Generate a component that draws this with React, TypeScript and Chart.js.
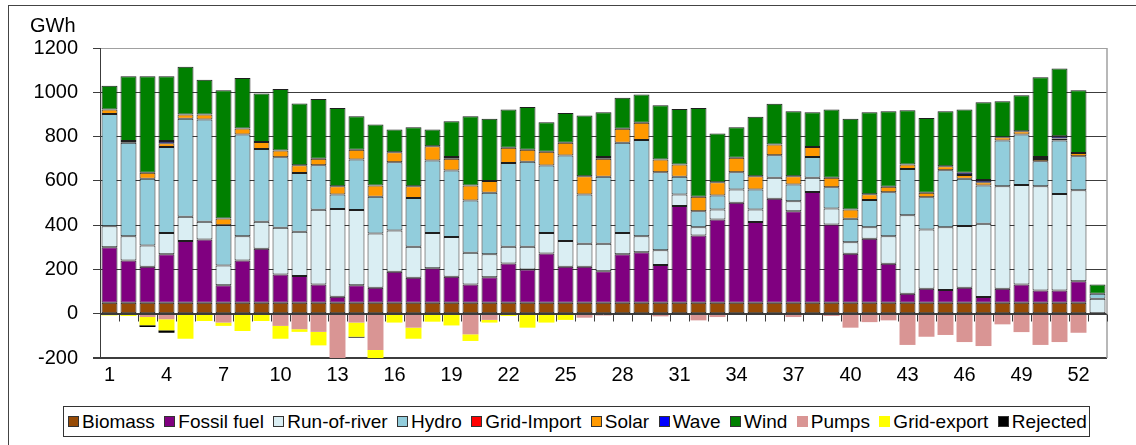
import React, { useEffect, useRef } from "react";
import { Chart, registerables } from "chart.js";

Chart.register(...registerables);

const weeks = ["1","2","3","4","5","6","7","8","9","10","11","12","13","14","15","16","17","18","19","20","21","22","23","24","25","26","27","28","29","30","31","32","33","34","35","36","37","38","39","40","41","42","43","44","45","46","47","48","49","50","51","52","53"];
const xTickLabels = ["1","4","7","10","13","16","19","22","25","28","31","34","37","40","43","46","49","52"];
const yTicks = [-200, 0, 200, 400, 600, 800, 1000, 1200];

const biomass = [50,50,50,50,50,50,50,50,50,50,50,50,50,50,50,50,50,50,50,50,50,50,50,50,50,50,50,50,50,50,50,50,50,50,50,50,50,50,50,50,50,50,50,50,50,50,50,50,50,50,50,50,0];
const fossil = [250,190,162,218,278,285,78,190,243,127,120,82,27,78,67,140,112,155,117,82,115,177,150,222,162,162,142,218,228,170,436,303,376,451,364,469,413,500,353,221,288,176,40,63,57,67,25,63,82,55,55,97,0];
const runOfRiver = [95,110,96,97,110,80,90,110,122,211,200,338,396,340,245,186,140,160,180,143,103,75,102,93,116,104,124,97,72,67,52,38,45,60,57,95,45,64,72,52,53,124,355,267,284,279,331,463,449,471,436,411,68];
const hydro = [507,422,301,388,442,462,182,459,329,319,266,200,65,228,166,308,221,327,300,236,278,379,384,304,386,222,302,407,434,352,80,72,63,78,90,102,76,94,96,106,122,199,209,146,257,213,173,206,228,113,241,153,22];
const gridImport = [0,0,0,0,0,0,0,0,0,0,0,0,0,0,0,0,0,0,0,0,0,0,0,0,0,0,0,0,0,0,0,0,0,0,0,0,0,0,0,0,0,0,0,0,0,0,0,0,0,0,0,0,0];
const solar = [20,8,28,17,20,23,30,27,31,30,34,30,38,45,51,45,53,64,53,68,53,68,55,62,58,83,82,63,78,57,56,65,60,65,60,48,37,45,43,42,26,24,20,20,18,18,15,15,15,10,9,15,0];
const wave = [0,0,0,10,0,0,0,0,0,0,0,0,0,0,0,0,0,0,8,0,0,0,0,0,0,0,8,0,0,0,0,0,0,0,0,0,0,0,0,0,0,0,0,0,0,10,10,0,0,9,10,0,0];
const wind = [108,292,435,292,215,157,579,229,219,278,279,270,353,151,275,103,266,76,161,313,281,173,193,134,135,274,202,140,128,246,251,401,220,138,268,184,293,157,308,409,371,341,245,338,248,285,351,163,163,360,306,283,42];
const pumps = [0,0,-15,-25,0,0,-40,0,0,-55,-70,-82,-215,-40,-164,0,-63,0,0,-93,-28,0,0,0,0,-18,-8,0,0,-12,-5,-30,-15,-5,-5,0,-15,-5,-10,-63,-38,-30,-141,-104,-96,-128,-146,-48,-83,-141,-128,-86,0];
const gridExport = [-8,-10,-37,-50,-113,-33,-15,-78,-33,-58,-12,-61,0,-64,-42,-40,-50,-36,-53,-30,-12,-10,-63,-40,-28,0,0,0,0,0,0,0,0,0,0,0,0,0,0,0,0,0,0,0,0,0,0,0,0,0,0,0,0];
const rejected = [0,0,-8,-11,0,0,0,0,0,0,0,0,0,-4,0,0,0,0,0,0,0,0,0,0,0,0,0,0,0,0,0,0,0,0,0,0,0,0,0,0,0,0,0,0,0,0,0,0,0,0,0,0,0];

const series = [
  { label: "Biomass", data: biomass, color: "#974B06", border: true },
  { label: "Fossil fuel", data: fossil, color: "#800080", border: true },
  { label: "Run-of-river", data: runOfRiver, color: "#DAEEF3", border: true },
  { label: "Hydro", data: hydro, color: "#92CDDC", border: true },
  { label: "Grid-Import", data: gridImport, color: "#FF0000", border: true },
  { label: "Solar", data: solar, color: "#FF9900", border: true },
  { label: "Wave", data: wave, color: "#0000FF", border: true },
  { label: "Wind", data: wind, color: "#008000", border: true },
  { label: "Pumps", data: pumps, color: "#D99594", border: false },
  { label: "Grid-export", data: gridExport, color: "#FFFF00", border: false },
  { label: "Rejected", data: rejected, color: "#000000", border: false },
];

const FONT = "'Liberation Sans', Arial, sans-serif";

const framePlugin = {
  id: "framePlugin",
  afterDraw(chart: any) {
    const { ctx, chartArea } = chart;
    const y = chart.scales.y;
    ctx.save();
    ctx.strokeStyle = "#a0a0a0";
    ctx.lineWidth = 1.5;
    ctx.beginPath();
    ctx.moveTo(chartArea.right, chartArea.top);
    ctx.lineTo(chartArea.right, chartArea.bottom);
    ctx.stroke();
    const y0 = Math.round(y.getPixelForValue(0)) + 0.5;
    const n = weeks.length;
    const w = (chartArea.right - chartArea.left) / n;
    ctx.strokeStyle = "#3c3c3c";
    ctx.lineWidth = 1;
    ctx.beginPath();
    ctx.moveTo(chartArea.left, y0);
    ctx.lineTo(chartArea.right, y0);
    for (let i = 1; i <= n; i++) {
      const px = Math.round(chartArea.left + i * w) + 0.5;
      ctx.moveTo(px, y0);
      ctx.lineTo(px, y0 + 7);
    }
    ctx.stroke();
    ctx.fillStyle = "#000";
    ctx.font = `20px ${FONT}`;
    ctx.textAlign = "left";
    ctx.textBaseline = "alphabetic";
    ctx.fillText("GWh", 30, 32);
    ctx.restore();
  },
};

export default function App() {
  const ref = useRef<HTMLCanvasElement | null>(null);

  useEffect(() => {
    if (!ref.current) return;
    const chart = new Chart(ref.current, {
      type: "bar",
      data: {
        labels: weeks,
        datasets: series.map((s) => ({
          label: s.label,
          data: s.data.map((v) => (v === 0 ? null : v)),
          backgroundColor: s.color,
          borderColor: "#1e1e1e",
          borderWidth: s.border ? 1 : 0,
          borderSkipped: false,
          stack: "all",
          categoryPercentage: 1,
          barPercentage: 0.84,
        })),
      },
      options: {
        animation: false,
        responsive: false,
        devicePixelRatio: 1,
        layout: { padding: { left: 0, right: 29, top: 48, bottom: 47 } },
        plugins: {
          legend: { display: false },
          tooltip: { enabled: false },
          title: { display: false },
        },
        scales: {
          x: {
            stacked: true,
            grid: { display: false, drawTicks: false },
            border: { display: false },
            ticks: {
              autoSkip: false,
              maxRotation: 0,
              minRotation: 0,
              padding: 5,
              color: "#000",
              font: { size: 20, family: FONT },
              callback: (_v: any, i: number) => (xTickLabels.includes(weeks[i]) ? weeks[i] : ""),
            },
            afterFit: (scale: any) => {
              scale.height = 40;
            },
          },
          y: {
            stacked: true,
            min: -200,
            max: 1200,
            afterBuildTicks: (scale: any) => {
              scale.ticks = yTicks.map((v) => ({ value: v }));
            },
            grid: {
              color: (c: any) => (c.tick && c.tick.value === 1200 ? "#a0a0a0" : "#3c3c3c"),
              lineWidth: (c: any) => (c.tick && c.tick.value === -200 ? 2 : 1),
              tickLength: 7,
              tickColor: "#3c3c3c",
            },
            border: { display: true, color: "#3c3c3c", width: 1 },
            ticks: {
              padding: 15,
              color: "#000",
              font: { size: 20, family: FONT },
              callback: (v: any) => String(v),
            },
            afterFit: (scale: any) => {
              scale.width = 100;
            },
          },
        },
      },
      plugins: [framePlugin],
    });
    return () => chart.destroy();
  }, []);

  return (
    <div style={{ position: "fixed", left: 0, top: 0, width: 1136, height: 445, background: "#fff", overflow: "hidden" }}>
      <div
        style={{
          position: "absolute",
          left: 8,
          top: 5,
          width: 1128,
          height: 440,
          borderTop: "1.5px solid #444",
          borderLeft: "1.5px solid #444",
          boxSizing: "border-box",
        }}
      />
      <canvas ref={ref} width={1136} height={445} style={{ position: "absolute", left: 0, top: 0, width: 1136, height: 445 }} />
      <div
        style={{
          position: "absolute",
          left: 63,
          top: 406,
          width: 1027,
          height: 31,
          border: "1.5px solid #333",
          boxSizing: "border-box",
          display: "flex",
          alignItems: "center",
          justifyContent: "space-between",
          padding: "0 2px 0 4px",
          fontFamily: FONT,
          fontSize: 19,
          color: "#000",
          whiteSpace: "nowrap",
          background: "#fff",
        }}
      >
        {series.map((s) => (
          <span key={s.label} style={{ display: "flex", alignItems: "center" }}>
            <span
              style={{
                display: "inline-block",
                width: 11,
                height: 11,
                boxSizing: "border-box",
                background: s.color,
                border: s.border || s.label === "Rejected" ? "1px solid #333" : "none",
                marginRight: 3,
              }}
            />
            {s.label}
          </span>
        ))}
      </div>
    </div>
  );
}
